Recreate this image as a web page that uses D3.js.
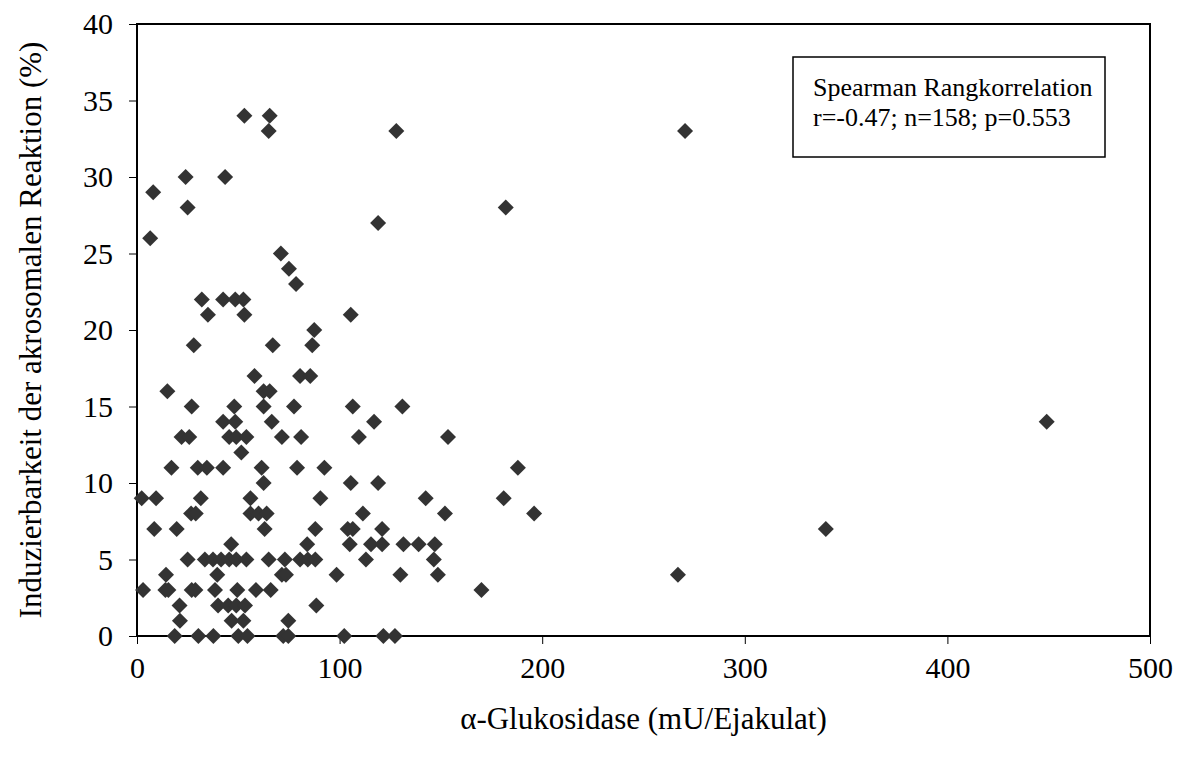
<!DOCTYPE html>
<html>
<head>
<meta charset="utf-8">
<script src="https://cdn.jsdelivr.net/npm/d3@7"></script>
<style>
  body { margin: 0; background: #fff; }
  svg { font-family: "Liberation Serif", "Times New Roman", serif; }
</style>
</head>
<body>
<svg id="chart" width="1183" height="758"></svg>
<script>
// alpha-glucosidase (mU/Ejakulat) vs. inducibility (%)
const glucosidase = [
  53, 65.5,
  65, 128, 270.5,
  24, 43.5,
  8,
  25, 182,
  119,
  6.5,
  71,
  75,
  78.5,
  32, 42.5, 48.5, 52.5,
  35, 53, 105.5,
  87.5,
  28, 67, 86.5,
  58, 80.5, 85.5,
  15, 62.5, 65.5,
  27, 48, 62.5, 77.5, 106.5, 131,
  42.5, 48.5, 66.5, 117, 449,
  22, 25.8, 45.5, 49, 54, 71.5, 81, 109.5, 153.5,
  51.5,
  17, 30, 34.5, 42.5, 61.5, 79, 92.5, 188,
  62.5, 105.5, 119,
  2.3, 9.4, 31.5, 56, 90.5, 142.5, 181,
  26.7, 29, 56, 60, 64, 111.5, 152, 196,
  8.5, 19.6, 63, 88, 104, 106.5, 121, 340,
  46.5, 84, 105, 115.5, 121, 131.5, 139, 147,
  25, 33.5, 37.5, 41.5, 45.5, 49, 54, 65, 73, 80.5, 84.3, 88, 113, 146.5,
  14.3, 39.6, 71.5, 73.5, 98.5, 130, 148.5, 267,
  3, 14, 15.5, 27, 28.8, 38.5, 49.5, 58.7, 66, 170,
  21, 40, 45, 49, 53.3, 88.5,
  21.2, 46.7, 52.5, 74.7,
  18.6, 30.3, 37.7, 50, 54.5, 72.2, 74.7, 102.3, 121.6, 127.3
];
const reaktion = [
  34, 34,
  33, 33, 33,
  30, 30,
  29,
  28, 28,
  27,
  26,
  25,
  24,
  23,
  22, 22, 22, 22,
  21, 21, 21,
  20,
  19, 19, 19,
  17, 17, 17,
  16, 16, 16,
  15, 15, 15, 15, 15, 15,
  14, 14, 14, 14, 14,
  13, 13, 13, 13, 13, 13, 13, 13, 13,
  12,
  11, 11, 11, 11, 11, 11, 11, 11,
  10, 10, 10,
  9, 9, 9, 9, 9, 9, 9,
  8, 8, 8, 8, 8, 8, 8, 8,
  7, 7, 7, 7, 7, 7, 7, 7,
  6, 6, 6, 6, 6, 6, 6, 6,
  5, 5, 5, 5, 5, 5, 5, 5, 5, 5, 5, 5, 5, 5,
  4, 4, 4, 4, 4, 4, 4, 4,
  3, 3, 3, 3, 3, 3, 3, 3, 3, 3,
  2, 2, 2, 2, 2, 2,
  1, 1, 1, 1,
  0, 0, 0, 0, 0, 0, 0, 0, 0, 0
];
const xTicks = [0, 100, 200, 300, 400, 500];
const yTicks = [0, 5, 10, 15, 20, 25, 30, 35, 40];
const statLines = ["Spearman Rangkorrelation", "r=-0.47; n=158; p=0.553"];

const svg = d3.select('#chart');
const margin = ({top: 24, right: 33, bottom: 122, left: 137});
const width = +svg.attr('width');
const height = +svg.attr('height');

const x = d3.scaleLinear()
    .domain([0, 500])
    .range([margin.left, width - margin.right]);
const y = d3.scaleLinear()
    .domain([0, 40])
    .range([height - margin.bottom, margin.top]);

const points = glucosidase.map((g, i) => ({g, r: reaktion[i]}));

// frame
svg.append('rect')
    .attr('x', x(0))
    .attr('y', y(40))
    .attr('width', x(500) - x(0))
    .attr('height', y(0) - y(40))
    .attr('fill', 'none')
    .attr('stroke', '#000')
    .attr('stroke-width', 2);

const xAxis = g => g
    .attr('transform', `translate(0,${y(0)})`)
    .call(d3.axisBottom(x).tickValues(xTicks).tickSize(8).tickPadding(13).tickSizeOuter(0))
    .call(g => g.select('.domain').remove())
    .call(g => g.selectAll('line').attr('stroke', '#000'))
    .call(g => g.selectAll('text').attr('fill', '#000').style('font-size', '30px')
        .style('font-family', '"Liberation Serif", serif'));

const yAxis = g => g
    .attr('transform', `translate(${x(0)},0)`)
    .call(d3.axisLeft(y).tickValues(yTicks).tickSize(8).tickPadding(16).tickSizeOuter(0))
    .call(g => g.select('.domain').remove())
    .call(g => g.selectAll('line').attr('stroke', '#000'))
    .call(g => g.selectAll('text').attr('fill', '#000').style('font-size', '30px')
        .style('font-family', '"Liberation Serif", serif'));

svg.append('g').call(xAxis);
svg.append('g').call(yAxis);

// diamonds
const diamond = d3.symbol(d3.symbolSquare, 128);
svg.append('g')
    .attr('fill', '#333')
    .selectAll('path')
    .data(points)
    .join('path')
        .attr('d', diamond)
        .attr('transform', d => `translate(${x(d.g)},${y(d.r)}) rotate(45)`);

// axis titles
svg.append('text')
    .attr('x', (x(0) + x(500)) / 2)
    .attr('y', 729)
    .attr('text-anchor', 'middle')
    .style('font-size', '31px')
    .text('α-Glukosidase (mU/Ejakulat)');

svg.append('text')
    .attr('transform', 'rotate(-90)')
    .attr('x', -(y(0) + y(40)) / 2)
    .attr('y', 41)
    .attr('text-anchor', 'middle')
    .style('font-size', '31px')
    .text('Induzierbarkeit der akrosomalen Reaktion (%)');

// stats box
const box = svg.append('g');
box.append('rect')
    .attr('x', 793)
    .attr('y', 57)
    .attr('width', 312)
    .attr('height', 100)
    .attr('fill', '#fff')
    .attr('stroke', '#000')
    .attr('stroke-width', 1.5);
box.selectAll('text')
    .data(statLines)
    .join('text')
        .attr('x', 813)
        .attr('y', (d, i) => 96 + i * 30)
        .style('font-size', '26px')
        .text(d => d);
</script>
</body>
</html>
